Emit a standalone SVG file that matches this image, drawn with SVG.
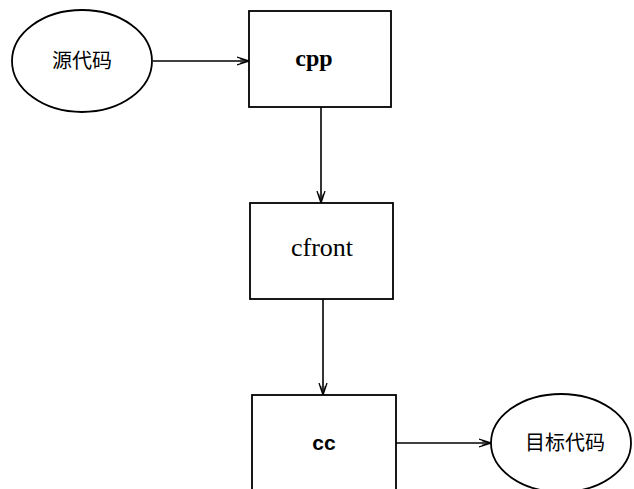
<svg xmlns="http://www.w3.org/2000/svg" width="634" height="489" viewBox="0 0 634 489">
<style>
.shape{fill:#fff;stroke:#000;stroke-width:1.8}
.edge{stroke:#000;stroke-width:1.6;fill:none}
.cjk{font-family:"Liberation Serif","Noto Sans CJK SC",serif;font-size:20px;fill:#000}
.lat{font-family:"Liberation Serif",serif;fill:#000}
</style>
<defs>
<marker id="arr" viewBox="0 0 12 10" refX="12" refY="5" markerWidth="12" markerHeight="10" markerUnits="userSpaceOnUse" orient="auto">
<path d="M0,1 L12,5 L0,9 M3,2.5 L12,5 L3,7.5" fill="none" stroke="#000" stroke-width="1.3"/>
</marker>
</defs>
<rect width="634" height="489" fill="#fff"/>
<g id="connectors">
<line class="edge" x1="153" y1="61" x2="249" y2="61" marker-end="url(#arr)"/>
<line class="edge" x1="321" y1="107" x2="321" y2="203" marker-end="url(#arr)"/>
<line class="edge" x1="323" y1="299" x2="323" y2="395" marker-end="url(#arr)"/>
<line class="edge" x1="396" y1="443" x2="491" y2="443" marker-end="url(#arr)"/>
</g>
<g id="src">
<ellipse class="shape" cx="82" cy="61" rx="70" ry="51"/>
<text class="cjk" x="82" y="68" text-anchor="middle">源代码</text>
</g>
<g id="cpp">
<rect class="shape" x="249" y="11" width="142" height="96"/>
<text class="lat" x="314" y="66" text-anchor="middle" font-size="24" font-weight="bold">cpp</text>
</g>
<g id="cfront">
<rect class="shape" x="250" y="203" width="143" height="96"/>
<text class="lat" x="322" y="256" text-anchor="middle" font-size="26">cfront</text>
</g>
<g id="cc">
<rect class="shape" x="252" y="395" width="144" height="100"/>
<text x="324" y="450" text-anchor="middle" font-family="Liberation Sans, sans-serif" font-size="21" font-weight="bold">cc</text>
</g>
<g id="target">
<ellipse class="shape" cx="561" cy="443" rx="70" ry="49"/>
<text class="cjk" x="565" y="450" text-anchor="middle">目标代码</text>
</g>
</svg>
